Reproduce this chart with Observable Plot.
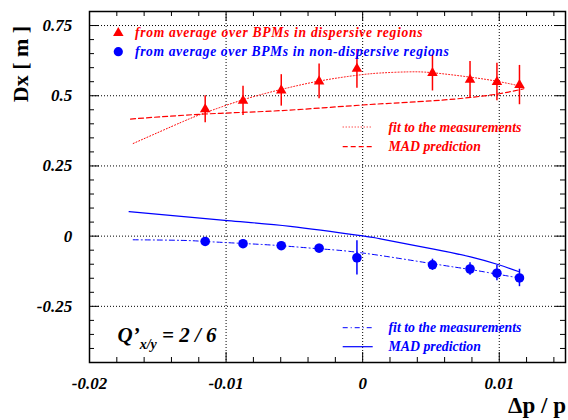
<!DOCTYPE html>
<html><head><meta charset="utf-8">
<script src="https://cdn.jsdelivr.net/npm/d3@7"></script>
<script src="https://cdn.jsdelivr.net/npm/@observablehq/plot@0.6"></script>
<style>html,body{margin:0;padding:0;background:#fff;} svg{display:block;}</style>
</head><body><div id="chart"></div>
<script>
// momentum offsets of the measurements
const dpX = [-0.01153, -0.00876, -0.00596, -0.00319, -0.00042, 0.00511, 0.00786, 0.00983, 0.01148];
// dispersive regions (red triangles)
const dispY   = [0.452, 0.482, 0.519, 0.551, 0.596, 0.581, 0.557, 0.549, 0.538];
const dispErr = [0.048, 0.052, 0.056, 0.062, 0.069, 0.064, 0.065, 0.067, 0.070];
// non-dispersive regions (blue circles)
const nondY   = [-0.019, -0.027, -0.034, -0.043, -0.077, -0.102, -0.117, -0.132, -0.149];
const nondErr = [0.012, 0.012, 0.013, 0.014, 0.061, 0.020, 0.022, 0.027, 0.031];
// curves
const redFitX = [-0.0168, -0.0133, -0.0115, -0.0088, -0.0060, -0.0031, -0.0004, 0.0013, 0.0033, 0.0051, 0.0079, 0.0099, 0.0115];
const redFitY = [0.330, 0.405, 0.440, 0.485, 0.522, 0.553, 0.573, 0.581, 0.585, 0.582, 0.566, 0.551, 0.535];
const redMadX = [-0.0170, -0.0115, -0.0060, 0, 0.0051, 0.0079, 0.0100, 0.0118];
const redMadY = [0.417, 0.435, 0.447, 0.467, 0.482, 0.494, 0.507, 0.525];
const blueFitX = [-0.0168, -0.0133, -0.0115, -0.0088, -0.0060, -0.0032, 0, 0.0051, 0.0079, 0.0098, 0.0115];
const blueFitY = [-0.013, -0.015, -0.019, -0.026, -0.034, -0.045, -0.060, -0.098, -0.119, -0.135, -0.149];
const blueMadX = [-0.0171, -0.0099, -0.0053, 0, 0.0013, 0.0052, 0.0079, 0.0099, 0.0114];
const blueMadY = [0.087, 0.055, 0.035, 0.001, -0.010, -0.046, -0.074, -0.101, -0.126];
// axes
const xTickValues = [-0.02, -0.01, 0, 0.01];
const xTickLabels = ["-0.02", "-0.01", "0", "0.01"];
const yTickValues = [-0.25, 0, 0.25, 0.5, 0.75];
const yTickLabels = ["-0.25", "0", "0.25", "0.5", "0.75"];
const xMinor = d3.range(-0.018, 0.0145, 0.002).filter(v => Math.abs(v / 0.01 - Math.round(v / 0.01)) > 0.05);
const yMinor = d3.range(-0.40, 0.79, 0.05).filter(v => Math.abs(v / 0.25 - Math.round(v / 0.25)) > 0.05);
const xGrid = [-0.01, 0, 0.01];
const yGrid = [-0.25, 0, 0.25, 0.5, 0.75];
// legend texts
const legendPoints = ["from average over BPMs in dispersive regions", "from average over BPMs in non-dispersive regions"];
const legendLines = ["fit to the measurements", "MAD prediction"];

const W = 568, H = 420, mL = 89, mT = 11, mR = 3, mB = 58;
const innerW = W - mL - mR, innerH = H - mT - mB;
const RED = "#ff0000", BLUE = "#0000ff";
const FONT = "Liberation Serif, Times New Roman, serif";
const idx = d3.range(dpX.length);
const pts = (xs, ys) => xs.map((x, i) => ({x, y: ys[i]}));

function annotations() {
  const g = d3.create("svg:g").attr("font-family", FONT).attr("font-weight", "bold").attr("font-style", "italic")
    .attr("text-anchor", "start");
  // point legend
  const tri = d3.symbol(d3.symbolTriangle, 3.9 * 3.9 * Math.PI)();
  const cir = d3.symbol(d3.symbolCircle, 4.6 * 4.6 * Math.PI)();
  g.append("path").attr("d", tri).attr("transform", "translate(118.3,33)").attr("fill", RED);
  g.append("path").attr("d", cir).attr("transform", "translate(118.3,51.7)").attr("fill", BLUE);
  g.append("text").attr("x", 135).attr("y", 36.5).attr("font-size", 13.6).attr("letter-spacing", 0.68)
    .attr("fill", RED).text(legendPoints[0]);
  g.append("text").attr("x", 135).attr("y", 56).attr("font-size", 13.6).attr("letter-spacing", 0.62)
    .attr("fill", BLUE).text(legendPoints[1]);
  // line legends
  const rows = [
    {y: 127, color: RED, dash: "1,2", w: 1, t: legendLines[0]},
    {y: 146.7, color: RED, dash: "5,3", w: 1.2, t: legendLines[1]},
    {y: 327.7, color: BLUE, dash: "5,3,1,3", w: 1, t: legendLines[0]},
    {y: 346.7, color: BLUE, dash: null, w: 1.2, t: legendLines[1]}
  ];
  for (const r of rows) {
    g.append("line").attr("x1", 342.7).attr("x2", 372.7).attr("y1", r.y).attr("y2", r.y)
      .attr("stroke", r.color).attr("stroke-width", r.w).attr("stroke-dasharray", r.dash);
    g.append("text").attr("x", 388.5).attr("y", r.y + 4.6).attr("font-size", 13.8).attr("fill", r.color).text(r.t);
  }
  // Q' label
  const q = g.append("text").attr("x", 117.5).attr("y", 341.7).attr("font-size", 21).attr("fill", "black");
  q.append("tspan").text("Q\u2019");
  q.append("tspan").attr("font-size", 14).attr("dy", 7.5).text("x/y");
  q.append("tspan").attr("dy", -7.5).text(" = 2 / 6");
  // axis titles
  g.append("text").attr("transform", "translate(28.3,64) rotate(-90)").attr("text-anchor", "middle")
    .attr("font-style", "normal").attr("font-size", 22).attr("fill", "black").text("Dx [ m ]");
  g.append("text").attr("x", 566).attr("y", 413.3).attr("text-anchor", "end")
    .attr("font-style", "normal").attr("font-size", 23).attr("fill", "black").text("\u0394p / p");
  return g.node();
}

const chart = Plot.plot({
  width: W, height: H,
  marginLeft: mL, marginTop: mT, marginRight: mR, marginBottom: mB,
  style: {fontFamily: FONT, background: "white", overflow: "visible"},
  x: {domain: [-0.02, 0.01485], axis: null},
  y: {domain: [-0.45, 0.8], axis: null},
  marks: [
    Plot.ruleX(xGrid, {x: d => d, stroke: "black", strokeWidth: 1, strokeDasharray: "1,2"}),
    Plot.ruleY(yGrid, {y: d => d, stroke: "black", strokeWidth: 1, strokeDasharray: "1,2"}),
    Plot.line(pts(redMadX, redMadY), {x: "x", y: "y", curve: "natural", stroke: RED, strokeWidth: 1.2, strokeDasharray: "5,3"}),
    Plot.line(pts(redFitX, redFitY), {x: "x", y: "y", curve: "natural", stroke: RED, strokeWidth: 1, strokeDasharray: "1,2"}),
    Plot.line(pts(blueMadX, blueMadY), {x: "x", y: "y", curve: "natural", stroke: BLUE, strokeWidth: 1.2}),
    Plot.line(pts(blueFitX, blueFitY), {x: "x", y: "y", curve: "natural", stroke: BLUE, strokeWidth: 1, strokeDasharray: "5,3,1,3"}),
    Plot.ruleX(idx, {x: i => dpX[i], y1: i => dispY[i] - dispErr[i], y2: i => dispY[i] + dispErr[i], stroke: RED, strokeWidth: 1.5}),
    Plot.ruleX(idx, {x: i => dpX[i], y1: i => nondY[i] - nondErr[i], y2: i => nondY[i] + nondErr[i], stroke: BLUE, strokeWidth: 1.5}),
    Plot.dot(idx, {x: i => dpX[i], y: i => dispY[i], symbol: "triangle", r: 3.9, fill: RED, stroke: "none"}),
    Plot.dot(idx, {x: i => dpX[i], y: i => nondY[i], symbol: "circle", r: 4.8, fill: BLUE, stroke: "none"}),
    Plot.frame({stroke: "black", strokeWidth: 1.5}),
    // inward ticks
    Plot.tickX(xTickValues, {x: d => d, insetTop: innerH - 10, stroke: "black"}),
    Plot.tickX(xTickValues, {x: d => d, insetBottom: innerH - 10, stroke: "black"}),
    Plot.tickX(xMinor, {x: d => d, insetTop: innerH - 5, stroke: "black"}),
    Plot.tickX(xMinor, {x: d => d, insetBottom: innerH - 5, stroke: "black"}),
    Plot.tickY(yTickValues, {y: d => d, insetRight: innerW - 10, stroke: "black"}),
    Plot.tickY(yTickValues, {y: d => d, insetLeft: innerW - 10, stroke: "black"}),
    Plot.tickY(yMinor, {y: d => d, insetRight: innerW - 5, stroke: "black"}),
    Plot.tickY(yMinor, {y: d => d, insetLeft: innerW - 5, stroke: "black"}),
    // tick labels
    Plot.text(xTickValues, {x: d => d, frameAnchor: "bottom", dy: 21.3, text: (d, i) => xTickLabels[i],
      fontSize: 17, fontWeight: "bold", fontStyle: "italic", fill: "black", lineAnchor: "middle"}),
    Plot.text(yTickValues, {y: d => d, frameAnchor: "left", dx: -17.3, text: (d, i) => yTickLabels[i], textAnchor: "end",
      fontSize: 17, fontWeight: "bold", fontStyle: "italic", fill: "black", lineAnchor: "middle"}),
    annotations
  ]
});
document.getElementById("chart").appendChild(chart);
</script>
</body></html>
